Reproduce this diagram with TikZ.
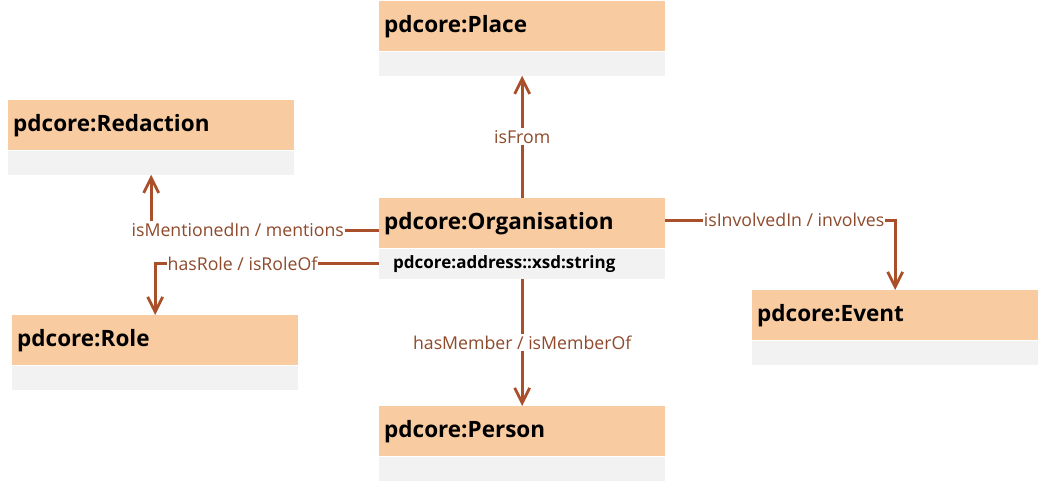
\documentclass[tikz,border=0pt]{standalone}
\usepackage{fontspec}
\setmainfont{Open Sans}
\usetikzlibrary{arrows.meta,positioning}
\definecolor{headfill}{HTML}{F8CBA0}
\definecolor{attrfill}{HTML}{F2F2F2}
\definecolor{relline}{HTML}{A9502B}
\definecolor{reltext}{HTML}{8F4A2C}
\begin{document}
\begin{tikzpicture}[x=1pt,y=-1pt,
    classhead/.style={rectangle, fill=headfill, anchor=north west,
      minimum height=50pt, text width=276pt, inner xsep=5pt, inner ysep=0pt,
      align=left, font=\bfseries\fontsize{22.5}{26}\selectfont},
    classattr/.style={rectangle, fill=attrfill, minimum height=24pt,
      text width=276pt, inner xsep=5pt, inner ysep=0pt, align=left,
      font=\bfseries\fontsize{17}{20}\selectfont},
    rel/.style={draw=relline, line width=2.8pt,
      -{Straight Barb[length=15pt,width=15pt]}},
    rellabel/.style={fill=white, text=reltext, inner xsep=1pt, inner ysep=2pt,
      font=\fontsize{17.7}{21}\selectfont}]
  \useasboundingbox (0,0) rectangle (1040,481);
  % classes
  \node[classhead] (Place) at (379,1) {pdcore:Place};
  \node[classattr, below=0pt of Place] (Placeattr) {};
  \node[classhead] (Red) at (8,100) {pdcore:Redaction};
  \node[classattr, below=0pt of Red] (Redattr) {};
  \node[classhead] (Org) at (379,198) {pdcore:Organisation};
  \node[classattr, below=0pt of Org, minimum height=30pt,
    text width=258pt, inner xsep=14pt] (Orgattr) {pdcore:address::xsd:string};
  \node[classhead] (Role) at (12,315) {pdcore:Role};
  \node[classattr, below=0pt of Role] (Roleattr) {};
  \node[classhead] (Event) at (752,290) {pdcore:Event};
  \node[classattr, below=0pt of Event] (Eventattr) {};
  \node[classhead] (Person) at (379,406) {pdcore:Person};
  \node[classattr, below=0pt of Person] (Personattr) {};
  % relations
  \draw[rel] (Org.north) -- node[rellabel] {isFrom} (Placeattr.south);
  \draw[rel] (Orgattr.south) -- node[rellabel] {hasMember / isMemberOf} (Person.north);
  \draw[rel] ([yshift=-7pt]Org.west) -| node[rellabel, pos=0.31] {isMentionedIn / mentions} (Redattr.south);
  \draw[rel] (Orgattr.west) -| node[rellabel, pos=0.305] {hasRole / isRoleOf} (Role.north);
  \draw[rel] ([yshift=3pt]Org.east) -| node[rellabel, pos=0.28] {isInvolvedIn / involves} (Event.north);
\end{tikzpicture}
\end{document}
